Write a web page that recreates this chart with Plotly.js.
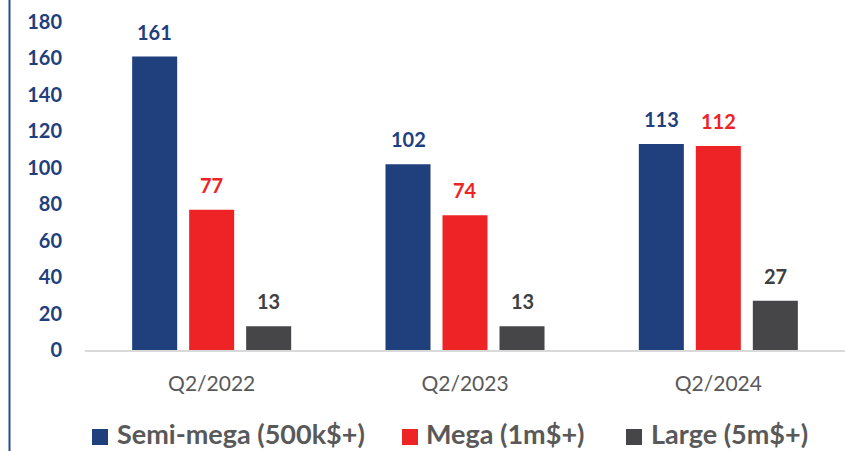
<!DOCTYPE html>
<html>
<head>
<meta charset="utf-8">
<script src="https://cdn.plot.ly/plotly-3.0.1.min.js"></script>
<style>html,body{margin:0;padding:0;background:#fff;}#chart{width:846px;height:451px;}</style>
</head>
<body>
<div id="chart"></div>
<script>
const categories = ['Q2/2022', 'Q2/2023', 'Q2/2024'];
const seriesNames = ['Semi-mega (500k$+)', 'Mega (1m$+)', 'Large (5m$+)'];
const semiMega = [161, 102, 113];
const mega = [77, 74, 112];
const large = [13, 13, 27];
const yTicks = [0, 20, 40, 60, 80, 100, 120, 140, 160, 180];

const barColors = ['#1F3F7D', '#EE2326', '#464648'];
const labelColors = ['#1F3F7D', '#EE2326', '#404040'];
const seriesValues = [semiMega, mega, large];

const M = {l: 85, r: 1, t: 22, b: 101};
const W = 846, H = 451;
const pw = W - M.l - M.r, ph = H - M.t - M.b;
const px2x = p => (p - M.l) / pw;
const py2y = p => (H - M.b - p) / ph;

const traces = seriesValues.map((vals, i) => ({
  type: 'bar',
  x: categories,
  y: vals,
  name: seriesNames[i],
  marker: {color: barColors[i], line: {width: 0}},
  hoverinfo: 'skip',
  showlegend: false
}));

const shifts = [-57, 0, 57];
const annotations = [];
seriesValues.forEach((vals, i) => {
  vals.forEach((v, j) => {
    annotations.push({
      x: categories[j], y: v, xref: 'x', yref: 'y',
      text: String(v), showarrow: false,
      xshift: shifts[i], yshift: 25, yanchor: 'middle',
      font: {family: 'Lato, sans-serif', size: 20, color: labelColors[i], weight: 'bold'}
    });
  });
});

// custom legend (squares + labels)
const legendSquareX = [92, 402, 626];
const legendTextX = [116, 425, 650];
const shapes = [{
  type: 'line', xref: 'paper', yref: 'paper',
  x0: px2x(9.5), x1: px2x(9.5), y0: py2y(H + 5), y1: py2y(-5),
  line: {color: '#2F4A8A', width: 2}
}];
seriesNames.forEach((name, i) => {
  shapes.push({
    type: 'rect', xref: 'paper', yref: 'paper',
    x0: px2x(legendSquareX[i]), x1: px2x(legendSquareX[i] + 16),
    y0: py2y(445), y1: py2y(429),
    fillcolor: barColors[i], line: {width: 0}
  });
  annotations.push({
    xref: 'paper', yref: 'paper', x: px2x(legendTextX[i]), y: py2y(451),
    xanchor: 'left', yanchor: 'bottom', showarrow: false, borderpad: 0,
    text: name,
    font: {family: 'Lato, sans-serif', size: 27, color: '#595959', weight: 'bold'}
  });
});

const layout = {
  width: W, height: H,
  margin: {l: M.l, r: M.r, t: M.t, b: M.b, autoexpand: false},
  paper_bgcolor: '#ffffff', plot_bgcolor: '#ffffff',
  barmode: 'group',
  bargap: 0.325,
  bargroupgap: 0.21,
  showlegend: false,
  xaxis: {
    type: 'category',
    showline: true, linecolor: '#D9D9D9', linewidth: 2,
    ticks: 'outside', ticklen: 14, tickcolor: 'rgba(0,0,0,0)',
    tickfont: {family: 'Lato, sans-serif', size: 21, color: '#595959'},
    showgrid: false, zeroline: false
  },
  yaxis: {
    range: [0, 180], tickvals: yTicks, ticktext: yTicks.map(String),
    showline: false, showgrid: false, zeroline: false,
    ticks: 'outside', ticklen: 18, tickcolor: 'rgba(0,0,0,0)',
    tickfont: {family: 'Lato, sans-serif', size: 20, color: '#1F3F7D', weight: 'bold'}
  },
  shapes: shapes,
  annotations: annotations
};

Plotly.newPlot('chart', traces, layout, {displayModeBar: false, staticPlot: true});
</script>
</body>
</html>
